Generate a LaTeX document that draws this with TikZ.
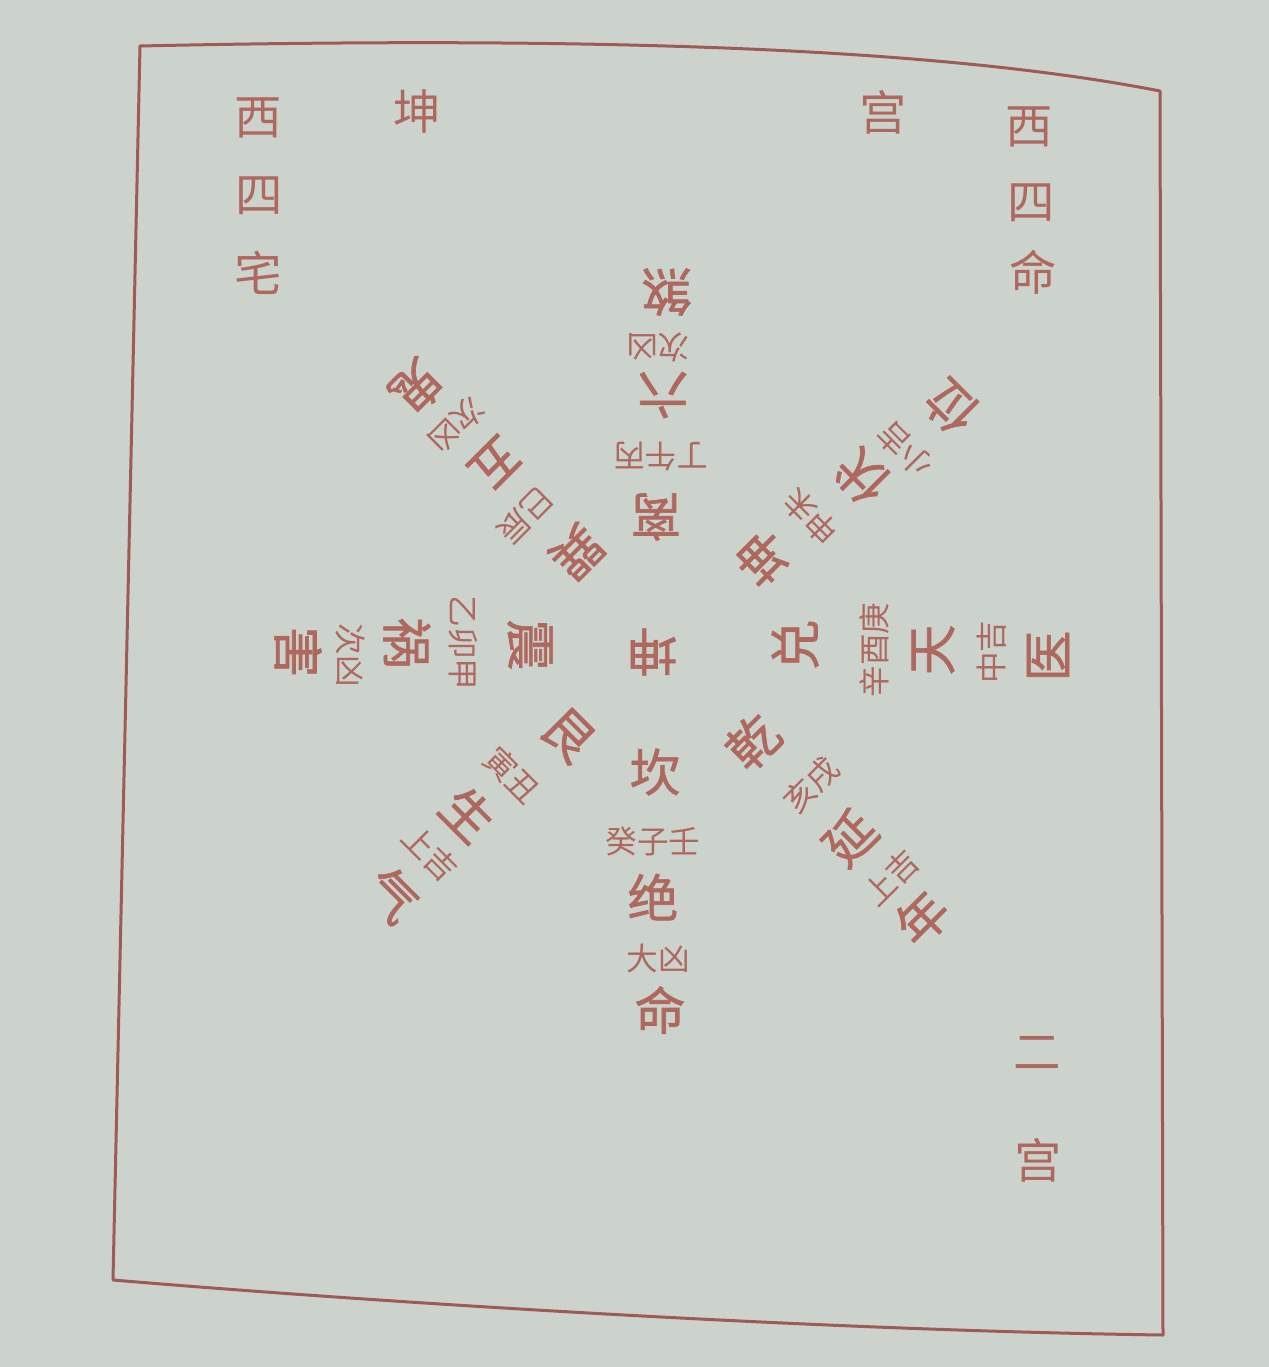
\documentclass[tikz,border=0pt]{standalone}
\usepackage{fontspec}
\newfontfamily\cjk{Noto Sans CJK SC}
\newfontfamily\cjkheavy[FakeBold=1.2]{Noto Sans CJK SC}
\definecolor{paper}{RGB}{204,211,205}
\definecolor{ink}{RGB}{174,104,94}
\definecolor{rule}{RGB}{158,90,84}

\begin{document}
\begin{tikzpicture}[x=0.2mm, y=-0.2mm,
	every node/.style={inner sep=0pt, text=ink},
	gua/.style={font=\cjkheavy\fontsize{29}{29}\selectfont},
	xing/.style={font=\cjkheavy\fontsize{29}{29}\selectfont},
	zhi/.style={font=\cjk\fontsize{18}{18}\selectfont},
	biao/.style={font=\cjk\fontsize{27}{27}\selectfont}]

	\fill [paper] (0,0) rectangle (1269,1367);
	\useasboundingbox (0,0) rectangle (1269,1367);

	% page frame
	\draw [rule, line width=0.6mm, line join=round] (140,46) .. controls (600,36) and (940,48) .. (1160,91)
		-- (1163,1335) .. controls (800,1330) and (350,1300) .. (113,1280) -- cycle;

	% headings
	\node [biao] (zhai-xi) at (258,118) {西};
	\node [biao] (zhai-si) at (259,196) {四};
	\node [biao] (zhai-zhai) at (258,273) {宅};
	\node [biao] (ti-kun) at (417,111) {坤};
	\node [biao] (ti-gong) at (883,112) {宫};
	\node [biao] (ming-xi) at (1029,127) {西};
	\node [biao] (ming-si) at (1031,203) {四};
	\node [biao] (ming-ming) at (1033,272) {命};
	\node [biao] (er) at (1037,1053) {二};
	\node [biao] (er-gong) at (1038,1160) {宫};

	% centre
	\node [gua, rotate=180] (zhong) at (652,652) {坤};

	% li, up
	\node [gua, rotate=180] (li) at (656,517) {离};
	\node [zhi, rotate=180] (li-zhi) at (661,457) {丁午丙};
	\node [xing, rotate=180] (li-a) at (663,395) {六};
	\node [zhi, rotate=180] (li-ji) at (658,347) {次凶};
	\node [xing, rotate=180] (li-b) at (667,292) {煞};

	% kan, down
	\node [gua] (kan) at (655,772) {坎};
	\node [zhi] (kan-zhi) at (653,841) {癸子壬};
	\node [xing] (kan-a) at (653,897) {绝};
	\node [zhi] (kan-ji) at (658,958) {大凶};
	\node [xing] (kan-b) at (660,1010) {命};

	% zhen, left
	\node [gua, rotate=-90] (zhen) at (530,645) {震};
	\node [zhi, rotate=-90] (zhen-zhi) at (463,643) {乙卯甲};
	\node [xing, rotate=-90] (zhen-a) at (407,643) {祸};
	\node [zhi, rotate=-90] (zhen-ji) at (350,655) {次凶};
	\node [xing, rotate=-90] (zhen-b) at (298,652) {害};

	% dui, right
	\node [gua, rotate=90] (dui) at (795,645) {兑};
	\node [zhi, rotate=90] (dui-zhi) at (874,650) {辛酉庚};
	\node [xing, rotate=90] (dui-a) at (933,650) {天};
	\node [zhi, rotate=90] (dui-ji) at (992,652) {中吉};
	\node [xing, rotate=90] (dui-b) at (1048,656) {医};

	% qian, lower right
	\node [gua, rotate=45] (qian) at (753,742) {乾};
	\node [zhi, rotate=45] (qian-zhi) at (811,785) {亥戌};
	\node [xing, rotate=45] (qian-a) at (850,838) {延};
	\node [zhi, rotate=45] (qian-ji) at (891,878) {上吉};
	\node [xing, rotate=45] (qian-b) at (922,918) {年};

	% gen, lower left
	\node [gua, rotate=-45] (gen) at (568,735) {艮};
	\node [zhi, rotate=-45] (gen-zhi) at (512,775) {寅丑};
	\node [xing, rotate=-45] (gen-a) at (468,814) {生};
	\node [zhi, rotate=-45] (gen-ji) at (430,853) {上吉};
	\node [xing, rotate=-45] (gen-b) at (392,895) {气};

	% kun, upper right
	\node [gua, rotate=135] (kun) at (763,558) {坤};
	\node [zhi, rotate=135] (kun-zhi) at (811,517) {申未};
	\node [xing, rotate=135] (kun-a) at (862,477) {伏};
	\node [zhi, rotate=135] (kun-ji) at (905,450) {小吉};
	\node [xing, rotate=135] (kun-b) at (951,407) {位};

	% xun, upper left
	\node [gua, rotate=-135] (xun) at (577,552) {巽};
	\node [zhi, rotate=-135] (xun-zhi) at (525,515) {巳辰};
	\node [xing, rotate=-135] (xun-a) at (495,463) {五};
	\node [zhi, rotate=-135] (xun-ji) at (457,425) {次凶};
	\node [xing, rotate=-135] (xun-b) at (417,387) {鬼};

\end{tikzpicture}
\end{document}
